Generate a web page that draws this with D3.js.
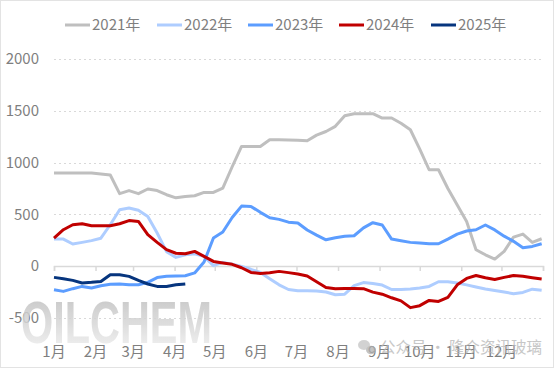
<!DOCTYPE html>
<html><head><meta charset="utf-8">
<script src="https://cdn.jsdelivr.net/npm/d3@7"></script>
<style>html,body{margin:0;padding:0;background:#fff;}svg{display:block;}</style>
</head><body>
<svg id="chart" width="554" height="368"></svg>
<script>
const seriesNames = ["2021年","2022年","2023年","2024年","2025年"];
const seriesColors = ["#bfbfbf","#aecdff","#5c9dff","#c00000","#06357e"];
const monthLabels = ["1月","2月","3月","4月","5月","6月","7月","8月","9月","10月","11月","12月"];
const yTicks = [-500,0,500,1000,1500,2000];
// weekly values, week 0 = Jan 1
const v2021 = [900,900,900,900,900,890,880,700,730,700,745,730,690,660,673,680,712,712,754,960,1156,1156,1156,1221,1221,1218,1215,1211,1265,1300,1350,1452,1472,1472,1472,1430,1430,1380,1317,1130,931,931,750,590,432,159,110,69,143,280,310,230,265];
const v2022 = [262,262,214,230,247,270,400,545,562,540,480,320,140,85,111,120,95,5,37,20,-3,-30,-60,-120,-180,-225,-236,-236,-240,-249,-275,-270,-188,-158,-168,-182,-225,-225,-220,-210,-195,-150,-150,-162,-180,-201,-220,-235,-250,-265,-253,-222,-233];
const v2023 = [-227,-243,-217,-195,-210,-188,-175,-172,-179,-179,-156,-110,-98,-95,-92,-65,40,272,330,470,580,577,520,468,452,425,417,350,300,255,275,290,294,370,420,398,262,245,230,224,217,217,262,310,340,352,398,350,290,240,178,191,217];
const v2024 = [272,352,400,410,391,391,391,410,440,432,304,230,160,125,120,143,95,46,31,18,-15,-60,-70,-63,-50,-62,-75,-95,-150,-205,-218,-216,-215,-217,-250,-270,-305,-335,-400,-381,-330,-340,-300,-180,-118,-90,-112,-128,-108,-90,-98,-112,-124];
const v2025 = [-108,-121,-137,-162,-156,-147,-82,-82,-98,-137,-172,-195,-195,-180,-172];
const allSeries = [v2021,v2022,v2023,v2024,v2025];

const svg = d3.select("#chart");
const font = "'Noto Sans CJK SC','Noto Sans',sans-serif";
const axisColor = "#7f7f7f";

svg.append("rect").attr("x",0.5).attr("y",0.5).attr("width",553).attr("height",367)
  .attr("fill","#fff").attr("stroke","#e3e3e3");

const x = d3.scaleTime().domain([new Date(2023,0,1), new Date(2024,0,1)]).range([54,543]);
const y = d3.scaleLinear().domain([-500,2000]).range([318,59]);
const dateOf = i => d3.timeDay.offset(new Date(2023,0,1), 7*i);

// gridlines
svg.append("g").selectAll("line").data(yTicks.filter(t=>t!==0)).join("line")
  .attr("x1",54).attr("x2",543).attr("y1",d=>Math.round(y(d))+0.5).attr("y2",d=>Math.round(y(d))+0.5)
  .attr("stroke","#d9d9d9").attr("stroke-width",1).attr("stroke-dasharray","2,3");

// y labels
svg.append("g").selectAll("text").data(yTicks).join("text")
  .attr("x",39).attr("y",d=>y(d)).attr("dy","0.35em").attr("text-anchor","end")
  .attr("font-family",font).attr("font-size",15).attr("fill",axisColor).text(d=>d);

// OILCHEM watermark
const defs = svg.append("defs");
const grad = defs.append("linearGradient").attr("id","wm").attr("x1",0).attr("y1",0).attr("x2",0).attr("y2",1);
grad.append("stop").attr("offset","0%").attr("stop-color","#b9b9b9");
grad.append("stop").attr("offset","100%").attr("stop-color","#f4f4f4");
svg.append("text").attr("x",21).attr("y",343).attr("font-family","'Liberation Sans',Arial,sans-serif")
  .attr("font-weight","bold").attr("font-size",60).attr("textLength",191).attr("lengthAdjust","spacingAndGlyphs")
  .attr("fill","url(#wm)").attr("opacity",0.85).text("OILCHEM");

// zero axis line with month ticks
const xAxis = d3.axisBottom(x).ticks(d3.timeMonth.every(1)).tickSize(5).tickFormat("")
  .tickValues(d3.timeMonth.range(new Date(2023,0,1), new Date(2024,0,2)));
const gx = svg.append("g").attr("transform",`translate(0,${Math.round(y(0))})`).call(xAxis);
gx.select(".domain").attr("stroke","#d9d9d9").attr("stroke-width",1.5);
gx.selectAll(".tick line").attr("stroke","#d9d9d9").attr("stroke-width",1.5);

// month labels at bottom
svg.append("g").selectAll("text").data(monthLabels).join("text")
  .attr("x",(d,i)=>x(new Date(2023,i,1))).attr("y",357).attr("text-anchor","middle")
  .attr("font-family",font).attr("font-size",15).attr("fill",axisColor).text(d=>d);

// lines
const line = d3.line().x((d,i)=>x(dateOf(i))).y(d=>y(d));
svg.append("g").selectAll("path").data(allSeries).join("path")
  .attr("d",d=>line(d)).attr("fill","none").attr("stroke",(d,i)=>seriesColors[i])
  .attr("stroke-width",3).attr("stroke-linejoin","round");

// legend
const legendX = [65,157,248,339,431];
const lg = svg.append("g").selectAll("g").data(seriesNames).join("g")
  .attr("transform",(d,i)=>`translate(${legendX[i]},25)`);
lg.append("line").attr("x1",0).attr("x2",25).attr("y1",0).attr("y2",0)
  .attr("stroke",(d,i)=>seriesColors[i]).attr("stroke-width",3);
lg.append("text").attr("x",27).attr("y",0).attr("dy","0.36em").attr("font-family",font)
  .attr("font-size",15).attr("fill",axisColor).text(d=>d);

// bottom-right watermark
const wm2 = svg.append("g").attr("opacity",0.75);
wm2.append("ellipse").attr("cx",364).attr("cy",345).attr("rx",6).attr("ry",5).attr("fill","#c4c4c4");
wm2.append("ellipse").attr("cx",371).attr("cy",350).attr("rx",5).attr("ry",4.2).attr("fill","#b0b0b0");
wm2.append("text").attr("x",380).attr("y",353).attr("font-family",font).attr("font-size",15.5)
  .attr("fill","#b5b5b5").text("公众号 · 隆众资讯玻璃");
</script>
</body></html>
